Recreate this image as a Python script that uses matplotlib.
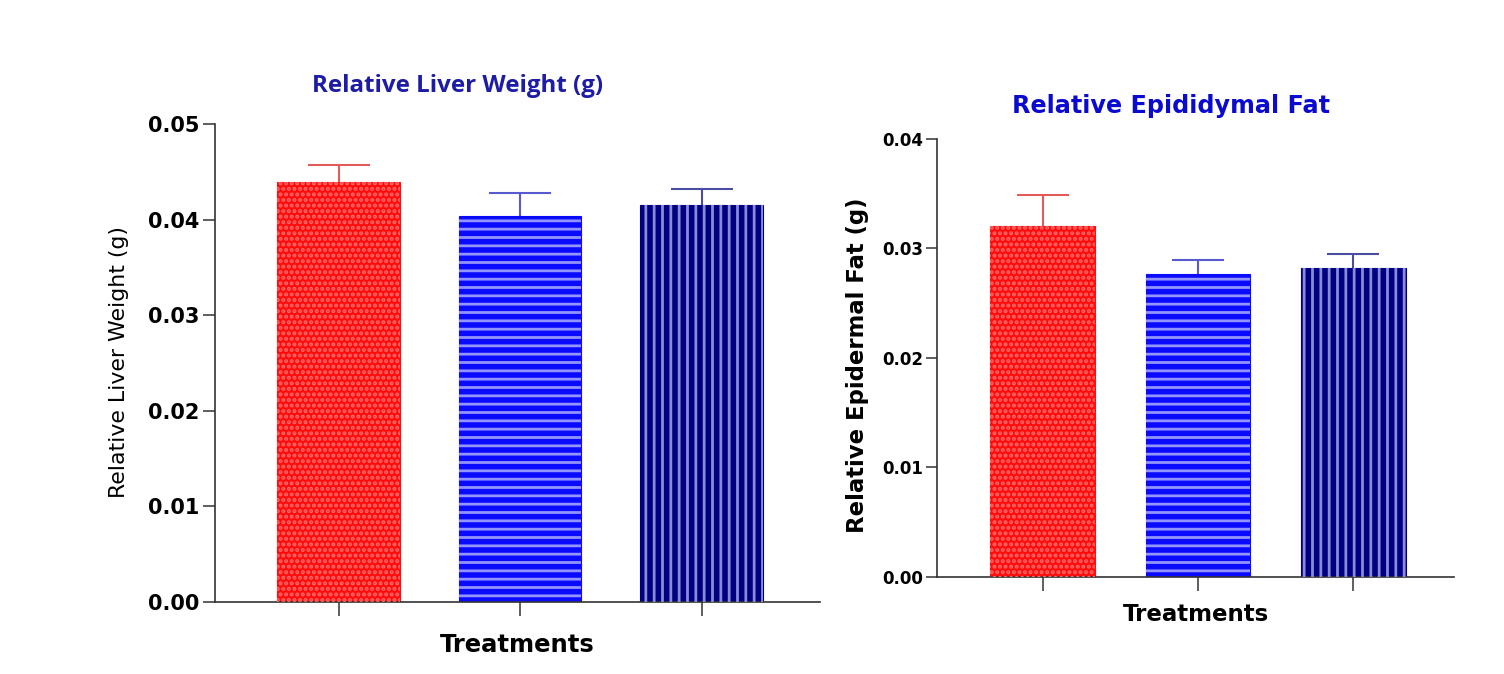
import matplotlib
matplotlib.use("Agg")
import matplotlib.pyplot as plt
import numpy as np

# data
groups = ["G1", "G2", "G3"]
liver_mean = [0.0439, 0.0404, 0.0415]
liver_sem = [0.0018, 0.0024, 0.0017]
fat_mean = [0.0320, 0.0277, 0.0282]
fat_sem = [0.0029, 0.0012, 0.0013]

bar_colors = ["#ff0d0d", "#0a0aff", "#000080"]
hatch_colors = ["#ff6a6a", "#9494ff", "#8a8ad8"]
err_colors = ["#e35a5a", "#5a5ad0", "#4c4ca0"]
hatches = ["...", "--", "||"]

plt.rcParams["hatch.linewidth"] = 2.0
plt.rcParams["font.family"] = "DejaVu Sans"

fig = plt.figure(figsize=(15.04, 6.74), dpi=100)


def draw_panel(ax, means, sems, ymax, capsize, tick_fs, ytick_len):
    x = np.arange(len(groups))
    for i in range(len(groups)):
        # symmetric error bar, lower half hidden behind the bar
        ax.errorbar(x[i], means[i], yerr=sems[i], color=err_colors[i],
                    lw=1.5, capsize=capsize, capthick=1.5, zorder=1)
        ax.bar(x[i], means[i], width=0.675, color=bar_colors[i],
               edgecolor=bar_colors[i], lw=0.8, zorder=2)
        ax.bar(x[i], means[i], width=0.675, facecolor="none",
               edgecolor=hatch_colors[i], hatch=hatches[i], lw=0, zorder=3)
    ax.set_xlim(-0.68, 2.65)
    ax.set_ylim(0, ymax)
    ax.set_xticks(x)
    ax.set_xticklabels(["", "", ""])
    ax.spines["top"].set_visible(False)
    ax.spines["right"].set_visible(False)
    for s in ("left", "bottom"):
        ax.spines[s].set_linewidth(1.2)
        ax.spines[s].set_color("#333333")
    ax.tick_params(axis="y", length=ytick_len, width=1.1, color="#333333",
                   pad=2, labelsize=tick_fs)
    ax.tick_params(axis="x", length=10, width=1.1, color="#333333")


# left panel
ax1 = fig.add_axes([0.143, 0.107, 0.402, 0.709])
draw_panel(ax1, liver_mean, liver_sem, 0.05, 22, 15, 9)
ax1.set_yticks([0, 0.01, 0.02, 0.03, 0.04, 0.05])
ax1.set_yticklabels(["0.00", "0.01", "0.02", "0.03", "0.04", "0.05"])
for lab in ax1.get_yticklabels():
    lab.set_fontweight("bold")
ax1.set_ylabel("Relative Liver Weight (g)", fontsize=15.8)
ax1.yaxis.set_label_coords(-0.142, 0.503)
ax1.set_xlabel("Treatments", fontsize=17.5, fontweight="bold", labelpad=9)
fig.text(0.3045, 0.872, "Relative Liver Weight (g)", fontsize=17.4,
         fontweight="bold", color="#1c1ca6", family="Open Sans",
         ha="center", va="center")

# right panel
ax2 = fig.add_axes([0.623, 0.144, 0.344, 0.650])
draw_panel(ax2, fat_mean, fat_sem, 0.04, 19, 12, 8)
ax2.set_yticks([0, 0.01, 0.02, 0.03, 0.04])
ax2.set_yticklabels(["0.00", "0.01", "0.02", "0.03", "0.04"])
for lab in ax2.get_yticklabels():
    lab.set_fontweight("bold")
ax2.set_ylabel("Relative Epidermal Fat (g)", fontsize=16.4, fontweight="bold")
ax2.yaxis.set_label_coords(-0.132, 0.483)
ax2.set_xlabel("Treatments", fontsize=16.5, fontweight="bold", labelpad=5)
fig.text(0.7786, 0.843, "Relative Epididymal Fat", fontsize=17.2,
         fontweight="bold", color="#0a0ad0", ha="center", va="center")

fig.savefig("out.png", dpi=100)
plt.close(fig)
